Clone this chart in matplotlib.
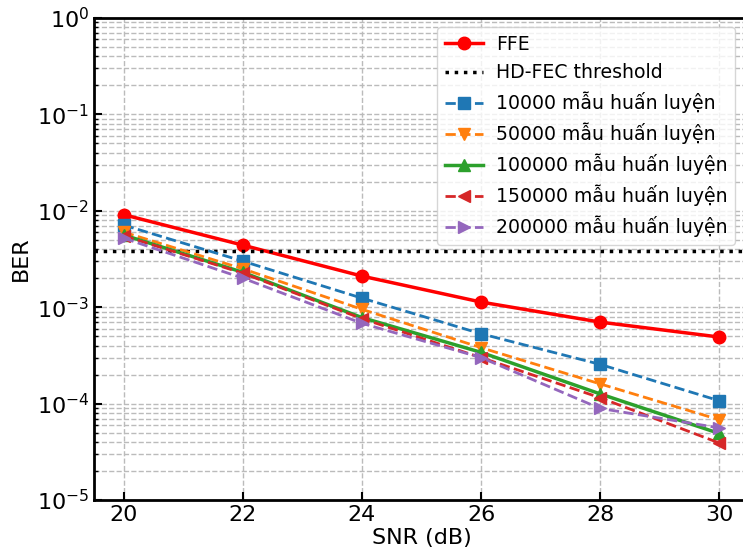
import numpy as np
import matplotlib
matplotlib.use('Agg')
import matplotlib.pyplot as plt

# SNR points and BER values
snr = [20, 22, 24, 26, 28, 30]
ber_ffe = [9.1e-3, 4.4e-3, 2.1e-3, 1.13e-3, 7.0e-4, 4.9e-4]
ber_10k = [7.1e-3, 3.0e-3, 1.24e-3, 5.3e-4, 2.55e-4, 1.07e-4]
ber_50k = [6.0e-3, 2.5e-3, 9.5e-4, 3.8e-4, 1.6e-4, 6.8e-5]
ber_100k = [5.6e-3, 2.3e-3, 7.8e-4, 3.4e-4, 1.26e-4, 4.9e-5]
ber_150k = [5.5e-3, 2.25e-3, 7.6e-4, 3.0e-4, 1.15e-4, 3.9e-5]
ber_200k = [5.2e-3, 2.0e-3, 6.8e-4, 3.0e-4, 8.9e-5, 5.6e-5]
hd_fec = 3.8e-3

fig = plt.figure(figsize=(7.43, 5.51), dpi=100)
ax = fig.add_axes([0.1265, 0.0926, 0.8816, 0.8748])

ax.plot(snr, ber_ffe, 'o-', color='red', lw=2.5, ms=9, label='FFE')
ax.axhline(hd_fec, color='black', ls=':', lw=2.5, label='HD-FEC threshold')
ax.plot(snr, ber_10k, 's--', color='tab:blue', lw=2, ms=9, label='10000 mẫu huấn luyện')
ax.plot(snr, ber_50k, 'v--', color='tab:orange', lw=2, ms=9, label='50000 mẫu huấn luyện')
ax.plot(snr, ber_100k, '^-', color='tab:green', lw=2.5, ms=9, label='100000 mẫu huấn luyện')
ax.plot(snr, ber_150k, '<--', color='tab:red', lw=2, ms=9, label='150000 mẫu huấn luyện')
ax.plot(snr, ber_200k, '>--', color='tab:purple', lw=2, ms=9, label='200000 mẫu huấn luyện')

ax.set_yscale('log')
ax.set_ylim(1e-5, 1)
ax.set_xlim(19.5, 30.5)
ax.set_xticks(snr)
ax.set_xlabel('SNR (dB)', fontsize=16, labelpad=2)
ax.set_ylabel('BER', fontsize=16)
ax.tick_params(which='both', direction='in', labelsize=16)
ax.tick_params(which='major', length=6, width=1.5)
ax.tick_params(which='minor', length=3, width=1)
ax.grid(True, which='major', ls='--', color='#bbbbbb', lw=1)
ax.grid(True, which='minor', axis='y', ls='--', color='#bbbbbb', lw=1)
for s in ax.spines.values():
    s.set_linewidth(2)

ax.legend(loc='upper right', fontsize=13.6, bbox_to_anchor=(0.993, 1.0),
          handlelength=2.0, handletextpad=0.7, labelspacing=0.5)

fig.savefig('out.png', dpi=100)
